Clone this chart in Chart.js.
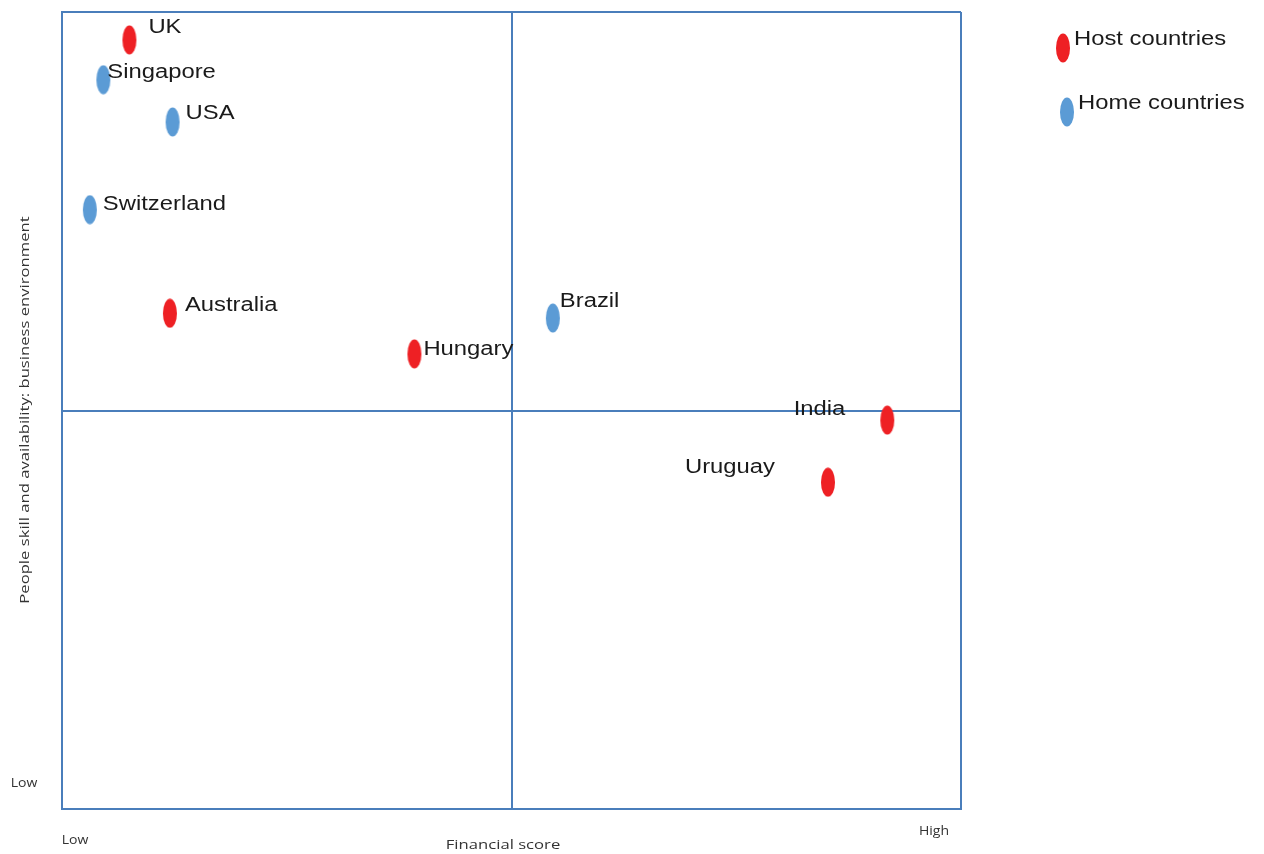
<!DOCTYPE html>
<html><head><meta charset="utf-8">
<script src="https://cdn.jsdelivr.net/npm/chart.js@4/dist/chart.umd.min.js"></script>
<style>html,body{margin:0;padding:0;background:#fff;}#wrap{width:1264px;height:854px;}</style>
</head><body><div id="wrap"><canvas id="c" width="1264" height="854"></canvas></div>
<script>
// Data
const hostNames = ['UK', 'Australia', 'Hungary', 'India', 'Uruguay'];
const hostFinancial = [7.5, 12.0, 39.2, 91.8, 85.2];
const hostPeople = [96.5, 62.2, 57.1, 48.8, 41.0];
const homeNames = ['Singapore', 'USA', 'Switzerland', 'Brazil'];
const homeFinancial = [4.6, 12.3, 3.1, 54.6];
const homePeople = [91.5, 86.2, 75.2, 61.6];
const seriesNames = ['Host countries', 'Home countries'];
const xTitle = 'Financial score';
const yTitle = 'People skill and availability: business environment';
const lowLabel = 'Low';
const highLabel = 'High';

const RED = '#ee2024', BLUE = '#5b9bd5', LINE = '#4a7ebb';

function ellipse(color) {
  const c = document.createElement('canvas');
  c.width = 16; c.height = 30;
  const g = c.getContext('2d');
  g.fillStyle = color;
  g.beginPath(); g.ellipse(8, 15, 7, 14.5, 0, 0, Math.PI * 2); g.fill();
  return c;
}
const redDot = ellipse(RED), blueDot = ellipse(BLUE);

// label offsets (style only): [dx, dy, align]
const hostLabelStyle = [[19, -12, 'left'], [15, -8, 'left'], [9, -4, 'left'], [-42, -11, 'right'], [-53, -15, 'right']];
const homeLabelStyle = [[4, -7, 'left'], [13, -9, 'left'], [13, -5, 'left'], [7, -17, 'left']];

function stretchText(ctx, text, x, y, align, sx) {
  ctx.save();
  ctx.translate(x, y);
  ctx.scale(sx, 1);
  ctx.textAlign = align;
  ctx.fillText(text, 0, 0);
  ctx.restore();
}

const labelsPlugin = {
  id: 'labelsPlugin',
  afterDatasetsDraw(chart) {
    const ctx = chart.ctx;
    ctx.save();
    ctx.font = '20px "Liberation Sans", Arial, sans-serif';
    ctx.fillStyle = '#1a1a1a';
    ctx.textBaseline = 'middle';
    const SX = 1.19;
    const sets = [[hostNames, hostLabelStyle], [homeNames, homeLabelStyle]];
    sets.forEach(([names, styles], di) => {
      chart.getDatasetMeta(di).data.forEach((pt, i) => {
        const s = styles[i];
        stretchText(ctx, names[i], pt.x + s[0], pt.y + s[1], s[2], SX);
      });
    });
    // legend
    const dots = [redDot, blueDot];
    const legY = [48, 112];
    const legX = [1055, 1059];
    seriesNames.forEach((n, i) => {
      ctx.drawImage(dots[i], legX[i], legY[i] - 15);
      stretchText(ctx, n, legX[i] + 19, legY[i] - 9, 'left', SX);
    });
    // axis titles
    ctx.font = '13px "Open Sans", "DejaVu Sans", sans-serif';
    ctx.fillStyle = '#333';
    const SS = 1.28;
    stretchText(ctx, xTitle, 503, 845, 'center', SS);
    stretchText(ctx, lowLabel, 75, 840, 'center', 1.08);
    stretchText(ctx, lowLabel, 24, 783, 'center', 1.08);
    stretchText(ctx, highLabel, 934, 831, 'center', 1.08);
    ctx.save();
    ctx.translate(25, 410);
    ctx.rotate(-Math.PI / 2);
    stretchText(ctx, yTitle, 0, 0, 'center', SS);
    ctx.restore();
    ctx.restore();
  }
};

new Chart(document.getElementById('c'), {
  type: 'scatter',
  data: {
    datasets: [
      { label: seriesNames[0], data: hostFinancial.map((x, i) => ({ x, y: hostPeople[i] })), pointStyle: redDot, backgroundColor: RED },
      { label: seriesNames[1], data: homeFinancial.map((x, i) => ({ x, y: homePeople[i] })), pointStyle: blueDot, backgroundColor: BLUE }
    ]
  },
  options: {
    responsive: false,
    animation: false,
    layout: { padding: { left: 62, top: 12, right: 303, bottom: 45 } },
    plugins: { legend: { display: false }, tooltip: { enabled: false } },
    scales: {
      x: {
        min: 0, max: 100,
        ticks: { display: false, stepSize: 50 },
        grid: { color: LINE, lineWidth: 2, drawTicks: false },
        border: { display: true, color: LINE, width: 2 }
      },
      y: {
        min: 0, max: 100,
        ticks: { display: false, stepSize: 50 },
        grid: { color: LINE, lineWidth: 2, drawTicks: false },
        border: { display: true, color: LINE, width: 2 }
      }
    }
  },
  plugins: [labelsPlugin]
});
</script></body></html>
